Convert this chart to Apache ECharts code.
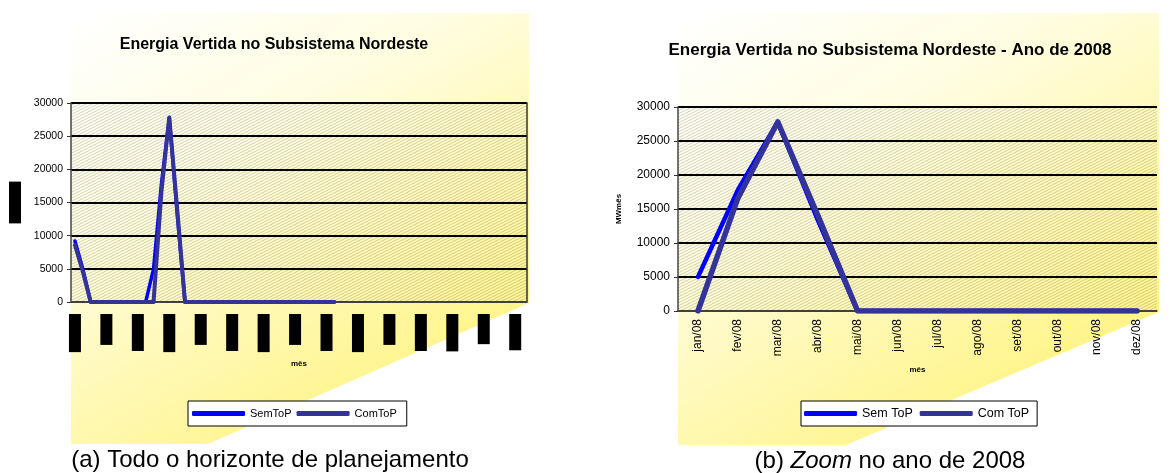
<!DOCTYPE html>
<html>
<head>
<meta charset="utf-8">
<script src="https://cdn.jsdelivr.net/npm/echarts@6.0.0/dist/echarts.min.js"></script>
<style>
  html, body { margin: 0; padding: 0; background: #fff; }
  #main { width: 1171px; height: 473px; }
</style>
</head>
<body>
<div id="main"></div>
<script>
// (a) todo o horizonte: mar/07 .. dez/11
var mesesHorizonte = [
  'mar/07','abr/07','mai/07','jun/07','jul/07','ago/07','set/07','out/07','nov/07','dez/07',
  'jan/08','fev/08','mar/08','abr/08','mai/08','jun/08','jul/08','ago/08','set/08','out/08','nov/08','dez/08',
  'jan/09','fev/09','mar/09','abr/09','mai/09','jun/09','jul/09','ago/09','set/09','out/09','nov/09','dez/09',
  'jan/10','fev/10','mar/10','abr/10','mai/10','jun/10','jul/10','ago/10','set/10','out/10','nov/10','dez/10',
  'jan/11','fev/11','mar/11','abr/11','mai/11','jun/11','jul/11','ago/11','set/11','out/11','nov/11','dez/11'
];
var semTopHorizonte = [
  9200, 5000, 0, 0, 0, 0, 0, 0, 0, 0,
  5000, 17800, 27800, 13400, 0, 0, 0, 0, 0, 0, 0, 0,
  0, 0, 0, 0, 0, 0, 0, 0, 0, 0, 0, 0
];
var comTopHorizonte = [
  8600, 4600, 0, 0, 0, 0, 0, 0, 0, 0,
  0, 16600, 27800, 14100, 0, 0, 0, 0, 0, 0, 0, 0,
  0, 0, 0, 0, 0, 0, 0, 0, 0, 0, 0, 0
];

// (b) zoom no ano de 2008
var meses2008 = ['jan/08','fev/08','mar/08','abr/08','mai/08','jun/08','jul/08','ago/08','set/08','out/08','nov/08','dez/08'];
var semTop2008 = [5000, 17800, 27800, 13400, 0, 0, 0, 0, 0, 0, 0, 0];
var comTop2008 = [0, 16600, 27800, 14100, 0, 0, 0, 0, 0, 0, 0, 0];

var corSem = '#0000ff';
var corCom = '#333399';
var fonte = '"Liberation Sans", Arial, sans-serif';

// hachura diagonal do fundo da area de plotagem
var hatch = document.createElement('canvas');
hatch.width = 6; hatch.height = 3;
var hctx = hatch.getContext('2d');
hctx.strokeStyle = 'rgba(80,80,80,0.36)';
hctx.lineWidth = 0.7;
[-3, 0, 3].forEach(function (dy) {
  hctx.beginPath();
  hctx.moveTo(-1, 3.5 + dy);
  hctx.lineTo(7, -0.5 + dy);
  hctx.stroke();
});
var hatchFill = { image: hatch, repeat: 'repeat' };

function fundo(x0, x1, y0, y1, xd, yd) {
  return {
    type: 'polygon', z: -10, silent: true,
    shape: { points: [[x0, y0], [x1, y0], [x1, yd], [xd, y1], [x0, y1]] },
    style: {
      fill: new echarts.graphic.LinearGradient(x0, y0, x0 + (x1 - x0) * 0.55, y1, [
        { offset: 0, color: '#ffffff' },
        { offset: 0.4, color: '#fffde0' },
        { offset: 1, color: '#fff488' }
      ], true)
    }
  };
}

function eixoY(grid, fs, nome, nomeGap, tarja) {
  return {
    type: 'value', gridIndex: grid, min: 0, max: 30000, interval: 5000,
    name: nome, nameLocation: 'middle', nameGap: nomeGap,
    nameTextStyle: tarja
      ? { fontSize: 10, fontWeight: 'bold', color: '#000', backgroundColor: '#000', padding: [1, 2] }
      : { fontSize: 8, fontWeight: 'bold', color: '#000' },
    axisLine: { show: true, lineStyle: { color: '#444', width: 1.5 } },
    axisTick: { show: true, length: 4, lineStyle: { color: '#333' } },
    axisLabel: { fontSize: fs, color: '#000', margin: 8, formatter: function (v) { return String(v); } },
    splitLine: { show: true, lineStyle: { color: '#000', width: 2 } }
  };
}

var myChart = echarts.init(document.getElementById('main'));

var option = {
  animation: false,
  textStyle: { fontFamily: fonte },
  grid: [
    { left: 71, right: 644, top: 103, bottom: 171, show: true, backgroundColor: hatchFill, borderWidth: 0 },
    { left: 678, right: 14, top: 107, bottom: 162, show: true, backgroundColor: hatchFill, borderWidth: 0 }
  ],
  xAxis: [
    {
      type: 'category', gridIndex: 0, data: mesesHorizonte, boundaryGap: true,
      name: 'mês', nameLocation: 'middle', nameGap: 58,
      nameTextStyle: { fontSize: 8, fontWeight: 'bold', color: '#000' },
      axisLine: { lineStyle: { color: '#555', width: 1.5 } },
      axisTick: { interval: 3, length: 4, lineStyle: { color: '#333' } },
      axisLabel: {
        interval: 3, rotate: 90, fontSize: 10, color: '#000', margin: 12,
        backgroundColor: '#000', padding: [1, 3.5]
      }
    },
    {
      type: 'category', gridIndex: 1, data: meses2008, boundaryGap: true,
      name: 'mês', nameLocation: 'middle', nameGap: 55,
      nameTextStyle: { fontSize: 8, fontWeight: 'bold', color: '#000' },
      axisLine: { lineStyle: { color: '#555', width: 1.5 } },
      axisTick: { interval: 0, length: 4, lineStyle: { color: '#333' } },
      axisLabel: { interval: 0, rotate: 90, fontSize: 12, color: '#000', margin: 8 }
    }
  ],
  yAxis: [
    eixoY(0, 10.5, 'MWmês', 50, true),
    eixoY(1, 12, 'MWmês', 55, false),
    {
      type: 'value', gridIndex: 0, position: 'right', min: 0, max: 30000,
      axisLine: { show: true, lineStyle: { color: '#333', width: 1.5 } },
      axisTick: { show: false }, axisLabel: { show: false }, splitLine: { show: false }
    }
  ],
  legend: [
    {
      data: ['SemToP', 'ComToP'], left: 188, top: 401, icon: 'roundRect',
      itemWidth: 53, itemHeight: 5, itemGap: 5, padding: [7, 10, 7, 4],
      borderColor: '#000', borderWidth: 1, backgroundColor: '#fff',
      textStyle: { fontSize: 11, color: '#000' }
    },
    {
      data: ['Sem ToP', 'Com ToP'], left: 801, top: 401, icon: 'roundRect',
      itemWidth: 53, itemHeight: 5, itemGap: 7, padding: [6, 8, 6, 3],
      borderColor: '#000', borderWidth: 1, backgroundColor: '#fff',
      textStyle: { fontSize: 12.5, color: '#000' }
    }
  ],
  series: [
    {
      name: 'SemToP', type: 'line', xAxisIndex: 0, yAxisIndex: 0, data: semTopHorizonte,
      color: corSem, symbol: 'none', z: 3,
      lineStyle: { width: 3.5, color: corSem, cap: 'round', join: 'round' }
    },
    {
      name: 'ComToP', type: 'line', xAxisIndex: 0, yAxisIndex: 0, data: comTopHorizonte,
      color: corCom, symbol: 'none', z: 4,
      lineStyle: { width: 4, color: corCom, cap: 'round', join: 'round' }
    },
    {
      name: 'Sem ToP', type: 'line', xAxisIndex: 1, yAxisIndex: 1, data: semTop2008,
      color: corSem, symbol: 'none', z: 3,
      lineStyle: { width: 4.5, color: corSem, cap: 'round', join: 'round' }
    },
    {
      name: 'Com ToP', type: 'line', xAxisIndex: 1, yAxisIndex: 1, data: comTop2008,
      color: corCom, symbol: 'none', z: 4,
      lineStyle: { width: 5.5, color: corCom, cap: 'round', join: 'round' }
    }
  ],
  graphic: [
    fundo(71, 529, 13, 444, 208, 303),
    fundo(678, 1159, 13, 445, 846, 312),
    {
      type: 'text', x: 274, y: 45, silent: true,
      style: {
        text: 'Energia Vertida no Subsistema Nordeste', align: 'center', verticalAlign: 'middle',
        font: 'bold 16px ' + fonte, fill: '#000'
      }
    },
    {
      type: 'text', x: 890, y: 50, silent: true,
      style: {
        text: 'Energia Vertida no Subsistema Nordeste - Ano de 2008', align: 'center', verticalAlign: 'middle',
        font: 'bold 17px ' + fonte, fill: '#000'
      }
    },
    {
      type: 'text', x: 270, y: 460, silent: true,
      style: {
        text: '(a) Todo o horizonte de planejamento', align: 'center', verticalAlign: 'middle',
        font: '24px ' + fonte, fill: '#000'
      }
    },
    {
      type: 'text', x: 890, y: 461, silent: true,
      style: {
        text: '(b) {i|Zoom} no ano de 2008', align: 'center', verticalAlign: 'middle',
        font: '24px ' + fonte, fill: '#000',
        rich: { i: { fontStyle: 'italic', fontSize: 24, fontFamily: fonte } }
      }
    }
  ]
};

myChart.setOption(option);
</script>
</body>
</html>
